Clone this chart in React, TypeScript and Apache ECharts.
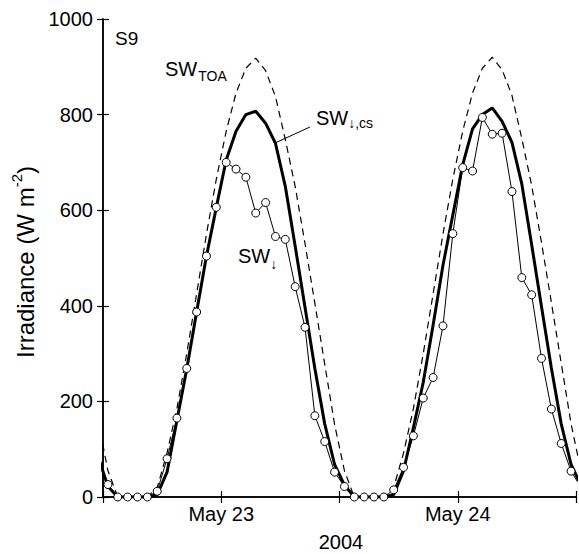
import React, { useEffect, useRef } from "react";
import * as echarts from "echarts";

// Hours since 2004-05-23 00:00 (UTC), hourly means at half hours
const hours = [
  -0.5, 0.5, 1.5, 2.5, 3.5, 4.5, 5.5, 6.5, 7.5, 8.5, 9.5, 10.5, 11.5, 12.5, 13.5, 14.5, 15.5,
  16.5, 17.5, 18.5, 19.5, 20.5, 21.5, 22.5, 23.5, 24.5, 25.5, 26.5, 27.5, 28.5, 29.5, 30.5,
  31.5, 32.5, 33.5, 34.5, 35.5, 36.5, 37.5, 38.5, 39.5, 40.5, 41.5, 42.5, 43.5, 44.5, 45.5,
  46.5, 47.5, 48.5,
];

// SW↓ measured (open circles)
const swDown = [
  60, 26, 0, 0, 0, 0, 12, 80, 165, 269, 387, 504, 606, 700, 686, 669, 594,
  616, 545, 539, 440, 355, 170, 116, 52, 22, 0, 0, 0, 0, 15, 62,
  128, 207, 250, 358, 551, 689, 682, 794, 759, 761, 639, 459, 423, 290, 184,
  112, 54, 20,
];

// SW↓,cs clear sky (thick line)
const swClearSky = [
  85, 22, 0, 0, 0, 0, 5, 52, 160, 268, 387, 504, 606, 705, 765, 800, 807,
  782, 740, 650, 525, 397, 269, 153, 68, 25, 0, 0, 0, 0, 5, 55,
  145, 240, 360, 485, 590, 695, 770, 800, 814, 786, 742, 655, 528, 398, 270,
  153, 68, 25,
];

// SW_TOA top of atmosphere (dashed)
const swTOA = [
  160, 55, 0, 0, 0, 0, 20, 92, 185, 300, 425, 550, 665, 765, 845, 897, 918,
  892, 838, 748, 650, 530, 405, 278, 152, 55, 0, 0, 0, 0, 20, 92,
  185, 300, 425, 550, 665, 765, 845, 897, 920, 894, 840, 750, 652, 532, 407,
  280, 153, 55,
];

const xTickLabels: Record<number, string> = { 12: "May 23", 36: "May 24" };
const xAxisTitle = "2004";
const yAxisTitleMain = "Irradiance (W m";
const yAxisTitleSup = "-2";
const yAxisTitleEnd = ")";
const stationLabel = "S9";

const FONT = '"Liberation Sans", Arial, Helvetica, sans-serif';

function textWidth(t: string, size: number): number {
  const ctx = document.createElement("canvas").getContext("2d");
  if (!ctx) return t.length * size * 0.55;
  ctx.font = `${size}px "Liberation Sans", Arial, sans-serif`;
  return ctx.measureText(t).width;
}

function txt(text: string, x: number, y: number, size: number, align = "left") {
  return {
    type: "text",
    x,
    y,
    silent: true,
    style: {
      text,
      fontSize: size,
      fontFamily: FONT,
      fill: "#000",
      align,
      verticalAlign: "middle",
    },
  };
}

export default function App() {
  const ref = useRef<HTMLDivElement>(null);

  useEffect(() => {
    if (!ref.current) return;
    const chart = echarts.init(ref.current, undefined, { renderer: "svg" });

    const pairs = (vals: number[]) => hours.map((h, i) => [h, vals[i]]);

    // y axis title pieces (rotated group)
    const tSize = 24;
    const supSize = 15;
    const w1 = textWidth(yAxisTitleMain, tSize);
    const w2 = textWidth(yAxisTitleSup, supSize);
    const w3 = textWidth(yAxisTitleEnd, tSize);
    const W = w1 + w2 + w3;
    const x0 = -W / 2;

    const swW = textWidth("SW", 20);

    const axisCommon = {
      axisLine: { show: true, lineStyle: { color: "#000", width: 1.5 } },
      axisTick: { show: true, inside: true, length: 6, lineStyle: { color: "#000", width: 1.2 } },
      splitLine: { show: false },
    };

    chart.setOption({
      animation: false,
      backgroundColor: "#fff",
      grid: { left: 103, top: 19, width: 475, height: 478, containLabel: false },
      xAxis: [
        {
          type: "value",
          min: 0,
          max: 48,
          interval: 12,
          position: "bottom",
          ...axisCommon,
          axisLabel: {
            show: true,
            margin: 7,
            fontSize: 20,
            fontFamily: FONT,
            color: "#000",
            formatter: (v: number) => xTickLabels[v] || "",
          },
        },
        {
          type: "value",
          min: 0,
          max: 48,
          interval: 12,
          position: "top",
          ...axisCommon,
          axisLabel: { show: false },
        },
      ],
      yAxis: [
        {
          type: "value",
          min: 0,
          max: 1000,
          interval: 200,
          position: "left",
          ...axisCommon,
          axisLabel: {
            show: true,
            margin: 10,
            fontSize: 20,
            fontFamily: FONT,
            color: "#000",
            formatter: (v: number) => String(v),
          },
        },
        {
          type: "value",
          min: 0,
          max: 1000,
          interval: 200,
          position: "right",
          ...axisCommon,
          axisLabel: { show: false },
        },
      ],
      series: [
        {
          name: "SW_TOA",
          type: "line",
          data: pairs(swTOA),
          showSymbol: false,
          symbol: "none",
          clip: true,
          lineStyle: { color: "#000", width: 1.2, type: [7, 5] },
          z: 2,
        },
        {
          name: "SW_cs",
          type: "line",
          data: pairs(swClearSky),
          showSymbol: false,
          symbol: "none",
          clip: true,
          lineStyle: { color: "#000", width: 3 },
          z: 3,
        },
        {
          name: "SW_down",
          type: "line",
          data: pairs(swDown),
          symbol: "circle",
          symbolSize: 8,
          showSymbol: true,
          clip: true,
          lineStyle: { color: "#000", width: 1 },
          itemStyle: { color: "#fff", borderColor: "#000", borderWidth: 1 },
          z: 4,
        },
      ],
      graphic: [
        txt(stationLabel, 115, 38, 19),
        // SW_TOA
        txt("SW", 165, 69, 20),
        txt("TOA", 165 + swW + 1, 76, 14),
        // SW↓,cs
        txt("SW", 316, 118, 20),
        txt("↓,cs", 316 + swW, 123, 14),
        {
          type: "line",
          silent: true,
          shape: { x1: 310, y1: 127, x2: 275, y2: 143 },
          style: { stroke: "#000", lineWidth: 1 },
        },
        // SW↓
        txt("SW", 238, 256, 20),
        txt("↓", 238 + swW, 264, 14),
        // x axis title
        txt(xAxisTitle, 341, 542, 20, "center"),
        // y axis title, rotated
        {
          type: "group",
          x: 25,
          y: 262,
          rotation: Math.PI / 2,
          children: [
            txt(yAxisTitleMain, x0, 0, tSize),
            txt(yAxisTitleSup, x0 + w1, -9, supSize),
            txt(yAxisTitleEnd, x0 + w1 + w2, 0, tSize),
          ],
        },
      ],
    });

    return () => chart.dispose();
  }, []);

  return (
    <div
      ref={ref}
      style={{ position: "absolute", left: 0, top: 0, width: 579, height: 554, background: "#fff" }}
    />
  );
}
